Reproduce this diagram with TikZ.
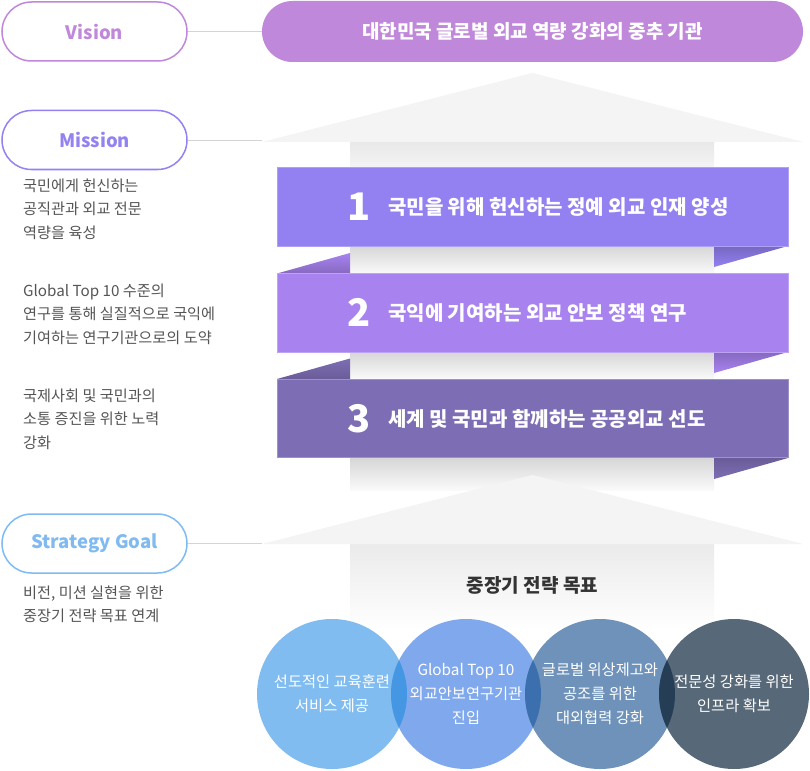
\documentclass[tikz,border=0pt]{standalone}
\usepackage{fontspec}
\setmainfont{Noto Sans CJK KR}
\usepackage{tikz}
\usepackage{xcolor}
\definecolor{visionpurple}{HTML}{C088DA}
\definecolor{missionpurple}{HTML}{9382F1}
\definecolor{goalblue}{HTML}{80BAF0}
\definecolor{textgray}{HTML}{555555}
\definecolor{titlegray}{HTML}{333333}
\definecolor{linegray}{HTML}{D4D4D4}
\definecolor{roofgray}{HTML}{F4F4F4}
\definecolor{ribbonone}{HTML}{9381F1}
\definecolor{ribbontwo}{HTML}{A883F0}
\definecolor{ribbonthree}{HTML}{7D6DB4}
\definecolor{goalone}{HTML}{80BCF0}
\definecolor{goaltwo}{HTML}{80A8EC}
\definecolor{goalthree}{HTML}{6E92B9}
\definecolor{goalfour}{HTML}{576878}
\definecolor{overlapone}{HTML}{4597E4}
\definecolor{overlaptwo}{HTML}{3B6FAD}
\definecolor{overlapthree}{HTML}{253E55}
\tikzset{
    pill-box/.style = {draw=#1, fill=white, line width=1.5pt, rounded corners=29.5pt, minimum width=185pt, minimum height=59pt, text=#1, font=\fontsize{18.5}{22}\selectfont\bfseries},
    banner-box/.style = {fill=visionpurple, rounded corners=30.5pt, minimum width=541pt, minimum height=61pt, text=white, font=\fontsize{19}{22}\selectfont\bfseries},
    link-line/.style = {draw=linegray, line width=0.8pt},
    side-text/.style = {anchor=north west, align=left, inner sep=0pt, text=textgray, font=\fontsize{15.2}{23.5}\selectfont},
    ribbon-box/.style = {fill=#1, draw=#1!75!white, line width=0.6pt, minimum width=511pt, minimum height=78.5pt, inner sep=0pt},
    ribbon-num/.style = {anchor=west, text=white, font=\fontsize{38}{40}\selectfont\bfseries, inner sep=0pt},
    ribbon-title/.style = {anchor=west, text=white, font=\fontsize{20}{24}\selectfont\bfseries, inner sep=0pt},
    roof-shape/.style = {fill=roofgray},
    goal-circle/.style = {circle, fill=#1, minimum size=150pt, inner sep=0pt},
    goal-text/.style = {text=white, align=center, font=\fontsize{15.3}{24}\selectfont},
    goal-title/.style = {text=titlegray, font=\fontsize{19}{22}\selectfont\bfseries},
}

\begin{document}
\begin{tikzpicture}[x=1pt, y=-1pt]
\fill[white] (0,0) rectangle (810,770);
\useasboundingbox (0,0) rectangle (810,770);

\shade[top color=black!9, bottom color=black!4] (350,142) rectangle (714,168);
\shade[top color=black!16, bottom color=black!2] (350,246) rectangle (714,273.5);
\shade[top color=black!16, bottom color=black!2] (350,352) rectangle (714,379);
\shade[top color=black!16, bottom color=black!2] (350,458) rectangle (714,490);
\shade[top color=black!8, bottom color=white] (350,544) rectangle (714,630);

\coordinate (roof1-left) at (262,142);
\coordinate (roof2-left) at (262,544);
\fill[roof-shape] (roof1-left) -- (532.5,73) -- (803,142) -- cycle;
\fill[roof-shape] (roof2-left) -- (532.5,475) -- (803,544) -- cycle;

\node[pill-box=visionpurple] (vision) at (94.5,31.5) {Vision};
\node[banner-box] (banner) at (532.5,31.5) {대한민국 글로벌 외교 역량 강화의 중추 기관};
\draw[link-line] (vision.east) -- (banner.west);

\node[pill-box=missionpurple] (mission) at (94.5,140) {Mission};
\draw[link-line] (mission.east) -- (mission.east -| roof1-left);
\node[pill-box=goalblue] (strategy) at (94.5,543.5) {Strategy Goal};
\draw[link-line] (strategy.east) -- (strategy.east -| roof2-left);

\shade[top color=ribbonone!80!black, bottom color=ribbonone] (714,246) -- (788,246) -- (714,267) -- cycle;
\shade[top color=ribbontwo, bottom color=ribbontwo!80!black] (277,273.5) -- (350,253) -- (350,273.5) -- cycle;
\shade[top color=ribbontwo!80!black, bottom color=ribbontwo] (714,352) -- (788,352) -- (714,373) -- cycle;
\shade[top color=ribbonthree, bottom color=ribbonthree!85!black] (277,379) -- (350,358.5) -- (350,379) -- cycle;
\shade[top color=ribbonthree!85!black, bottom color=ribbonthree] (714,458) -- (788,458) -- (714,479) -- cycle;

\node[ribbon-box=ribbonone] (rib1) at (532.5,207) {};
\node[ribbon-box=ribbontwo] (rib2) at (532.5,312.75) {};
\node[ribbon-box=ribbonthree] (rib3) at (532.5,418.5) {};
\node[ribbon-num] (num1) at (347,207) {1};
\node[ribbon-title] (title1) at (388,207) {국민을 위해 헌신하는 정예 외교 인재 양성};
\node[ribbon-num] (num2) at (347,312.75) {2};
\node[ribbon-title] (title2) at (388,312.75) {국익에 기여하는 외교 안보 정책 연구};
\node[ribbon-num] (num3) at (347,418.5) {3};
\node[ribbon-title] (title3) at (388,418.5) {세계 및 국민과 함께하는 공공외교 선도};

\node[side-text] (mission-text1) at (23,178.5) {국민에게 헌신하는\\공직관과 외교 전문\\역량을 육성};
\node[side-text] (mission-text2) at (23,283.5) {Global Top 10 수준의\\연구를 통해 실질적으로 국익에\\기여하는 연구기관으로의 도약};
\node[side-text] (mission-text3) at (23,388.5) {국제사회 및 국민과의\\소통 증진을 위한 노력\\강화};
\node[side-text] (strategy-text) at (23,585.5) {비전, 미션 실현을 위한\\중장기 전략 목표 연계};

\node[goal-title] (goal-title) at (532.5,585) {중장기 전략 목표};

\node[goal-circle=goalone] (goal1) at (332,694) {};
\node[goal-circle=goaltwo] (goal2) at (466,694) {};
\node[goal-circle=goalthree] (goal3) at (600,694) {};
\node[goal-circle=goalfour] (goal4) at (734,694) {};
\begin{scope}
\clip (goal1.center) circle (75pt);
\fill[overlapone] (goal2.center) circle (75pt);
\end{scope}
\begin{scope}
\clip (goal2.center) circle (75pt);
\fill[overlaptwo] (goal3.center) circle (75pt);
\end{scope}
\begin{scope}
\clip (goal3.center) circle (75pt);
\fill[overlapthree] (goal4.center) circle (75pt);
\end{scope}
\node[goal-text] (goal1-text) at (goal1) {선도적인 교육훈련\\서비스 제공};
\node[goal-text] (goal2-text) at (goal2) {Global Top 10\\외교안보연구기관\\진입};
\node[goal-text] (goal3-text) at (goal3) {글로벌 위상제고와\\공조를 위한\\대외협력 강화};
\node[goal-text] (goal4-text) at (goal4) {전문성 강화를 위한\\인프라 확보};
\end{tikzpicture}
\end{document}
